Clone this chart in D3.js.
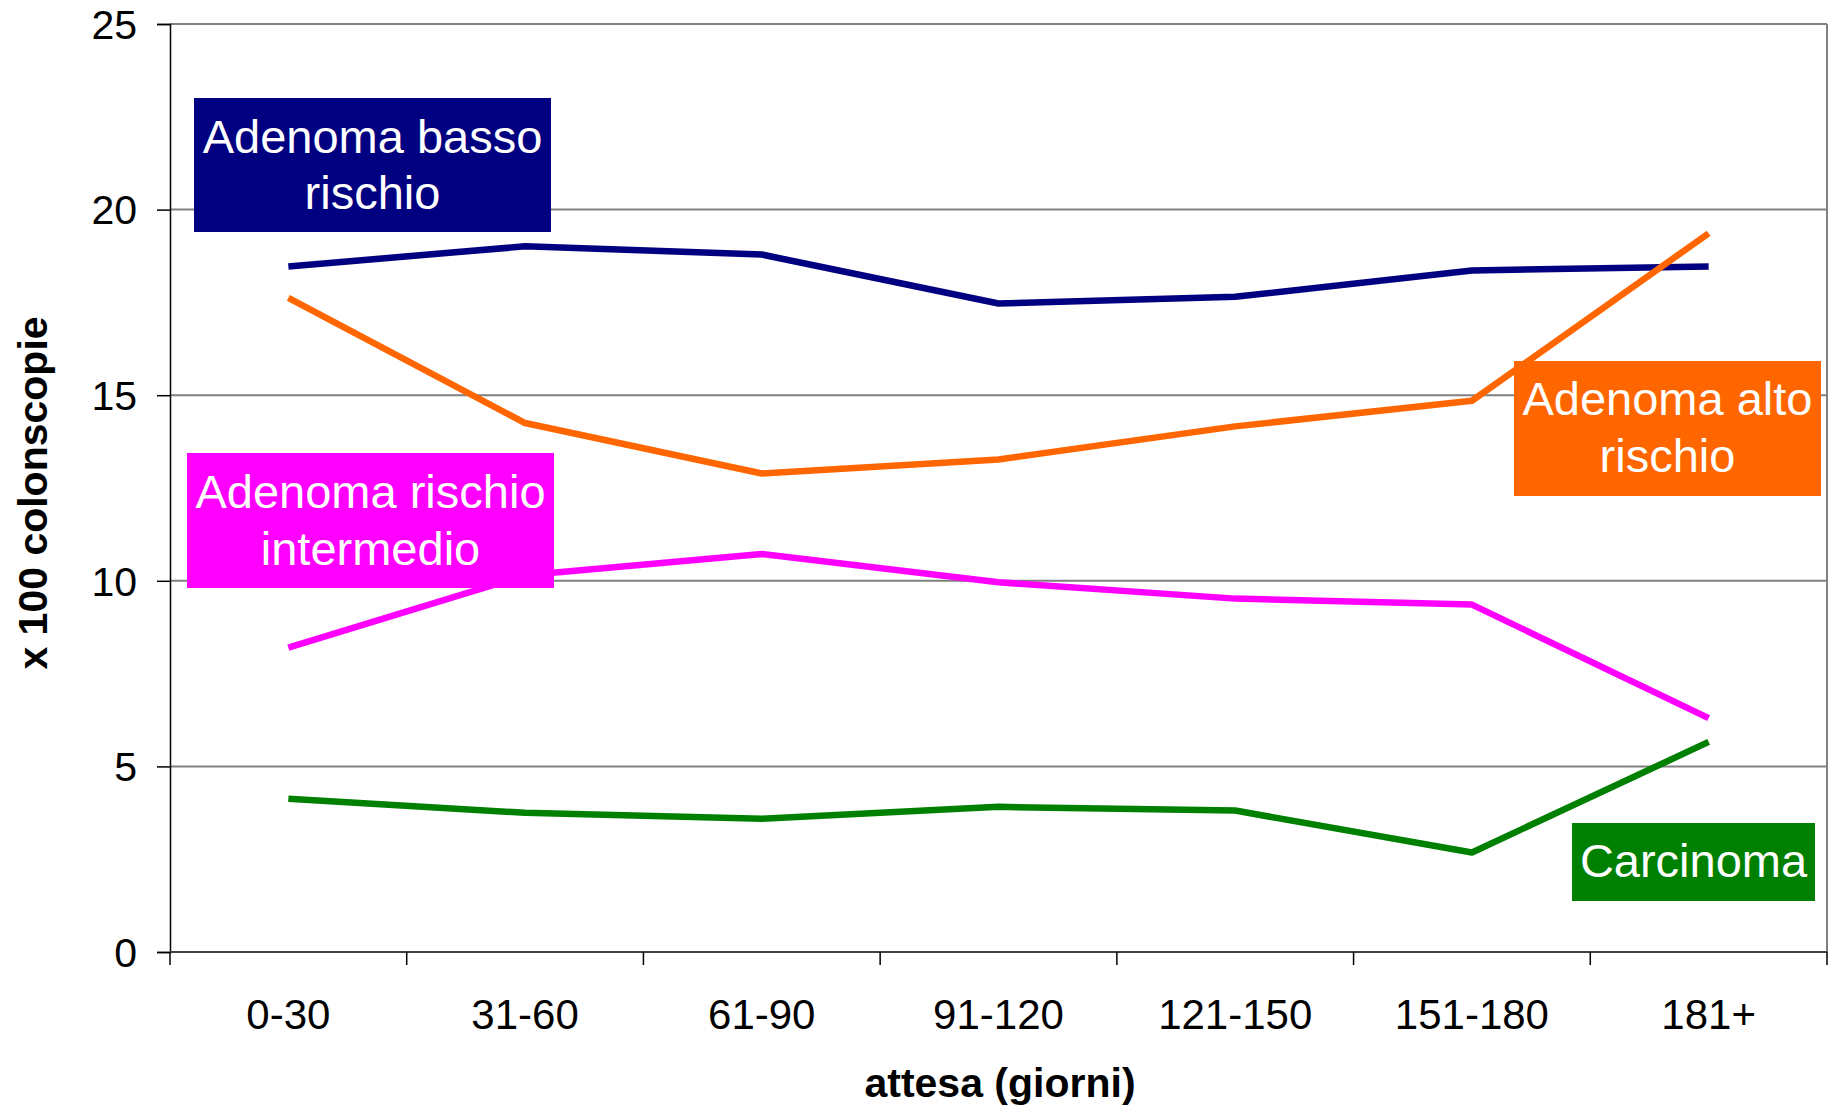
<!DOCTYPE html>
<html>
<head>
<meta charset="utf-8">
<script src="https://cdn.jsdelivr.net/npm/d3@7"></script>
<style>
  html, body { margin: 0; padding: 0; background: #fff; }
  svg { display: block; font-family: "Liberation Sans", Arial, sans-serif; }
</style>
</head>
<body>
<svg id="chart" width="1835" height="1108"></svg>
<script>
// ---- data ----
const categories = ["0-30", "31-60", "61-90", "91-120", "121-150", "151-180", "181+"];
const bassoRischio = [18.47, 19.01, 18.79, 17.47, 17.65, 18.36, 18.47];
const altoRischio = [17.62, 14.25, 12.89, 13.27, 14.16, 14.85, 19.36];
const rischioIntermedio = [8.20, 10.15, 10.72, 9.96, 9.52, 9.36, 6.30];
const carcinoma = [4.13, 3.75, 3.59, 3.91, 3.81, 2.68, 5.66];
const yTicks = [0, 5, 10, 15, 20, 25];
const seriesNames = [["Adenoma basso", "rischio"], ["Adenoma alto", "rischio"], ["Adenoma rischio", "intermedio"], ["Carcinoma"]];
const xTitle = "attesa (giorni)";
const yTitle = "x 100 colonscopie";

// ---- styles / layout ----
const colors = ["#000080", "#FF6600", "#FF00FF", "#008000"];
const seriesValues = [bassoRischio, altoRischio, rischioIntermedio, carcinoma];
const labelBoxes = [
  {x: 194, y: 98, w: 357, h: 134, cx: 372.5, base: [152.5, 209]},
  {x: 1514, y: 361, w: 307, h: 135, cx: 1667.5, base: [415, 472]},
  {x: 187, y: 453, w: 367, h: 135, cx: 370.5, base: [508, 565]},
  {x: 1572, y: 823, w: 243, h: 78, cx: 1693.5, base: [877]}
];

const pLeft = 170, pRight = 1827, pTop = 24, pBottom = 952;
const svg = d3.select("#chart");

const x = d3.scaleBand().domain(categories).range([pLeft, pRight]).padding(0);
const y = d3.scaleLinear().domain([0, 25]).range([pBottom, pTop]);
const xc = c => x(c) + x.bandwidth() / 2;

// gridlines
svg.append("g").selectAll("line").data(yTicks).join("line")
  .attr("x1", pLeft).attr("x2", pRight)
  .attr("y1", d => y(d)).attr("y2", d => y(d))
  .attr("stroke", "#808080").attr("stroke-width", 2);

// right border
svg.append("line").attr("x1", pRight).attr("x2", pRight).attr("y1", pTop).attr("y2", pBottom)
  .attr("stroke", "#808080").attr("stroke-width", 2);

// y axis
const yAxis = d3.axisLeft(y).tickValues(yTicks).tickSize(13).tickPadding(20);
const gy = svg.append("g").attr("transform", `translate(${pLeft},0)`).call(yAxis);
gy.select(".domain").attr("stroke", "#000").attr("stroke-width", 1.5);
gy.selectAll(".tick line").attr("stroke", "#000").attr("stroke-width", 1.5);
gy.selectAll(".tick text").attr("font-size", 41).attr("fill", "#000")
  .attr("font-family", "Liberation Sans, Arial, sans-serif").attr("dy", "0.35em");

// x axis baseline
svg.append("line").attr("x1", pLeft).attr("x2", pRight).attr("y1", pBottom).attr("y2", pBottom)
  .attr("stroke", "#404040").attr("stroke-width", 2);
// x ticks at category boundaries
const bounds = categories.map(c => x(c)).concat([pRight]);
svg.append("g").selectAll("line").data(bounds).join("line")
  .attr("x1", d => d).attr("x2", d => d).attr("y1", pBottom).attr("y2", pBottom + 13)
  .attr("stroke", "#000").attr("stroke-width", 1.5);
svg.append("g").selectAll("text").data(categories).join("text")
  .attr("x", d => xc(d)).attr("y", 1029)
  .attr("text-anchor", "middle").attr("font-size", 42).attr("fill", "#000")
  .text(d => d);

// lines
const line = d3.line().x((d, i) => xc(categories[i])).y(d => y(d));
svg.append("g").selectAll("path").data(seriesValues).join("path")
  .attr("d", d => line(d))
  .attr("fill", "none")
  .attr("stroke", (d, i) => colors[i])
  .attr("stroke-width", 6.5)
  .attr("stroke-linejoin", "round");

// label boxes
const lb = svg.append("g").selectAll("g").data(labelBoxes).join("g");
lb.append("rect")
  .attr("x", d => d.x).attr("y", d => d.y).attr("width", d => d.w).attr("height", d => d.h)
  .attr("fill", (d, i) => colors[i]);
lb.each(function(d, i) {
  d3.select(this).selectAll("text").data(seriesNames[i]).join("text")
    .attr("x", d.cx).attr("y", (t, j) => d.base[j])
    .attr("text-anchor", "middle").attr("font-size", 47).attr("fill", "#fff")
    .text(t => t);
});

// axis titles
svg.append("text").attr("x", 1000).attr("y", 1097)
  .attr("text-anchor", "middle").attr("font-size", 41).attr("font-weight", "bold")
  .text(xTitle);
svg.append("text")
  .attr("transform", `translate(47,${(pTop + pBottom) / 2 + 5}) rotate(-90)`)
  .attr("text-anchor", "middle").attr("font-size", 41).attr("font-weight", "bold")
  .text(yTitle);
</script>
</body>
</html>
